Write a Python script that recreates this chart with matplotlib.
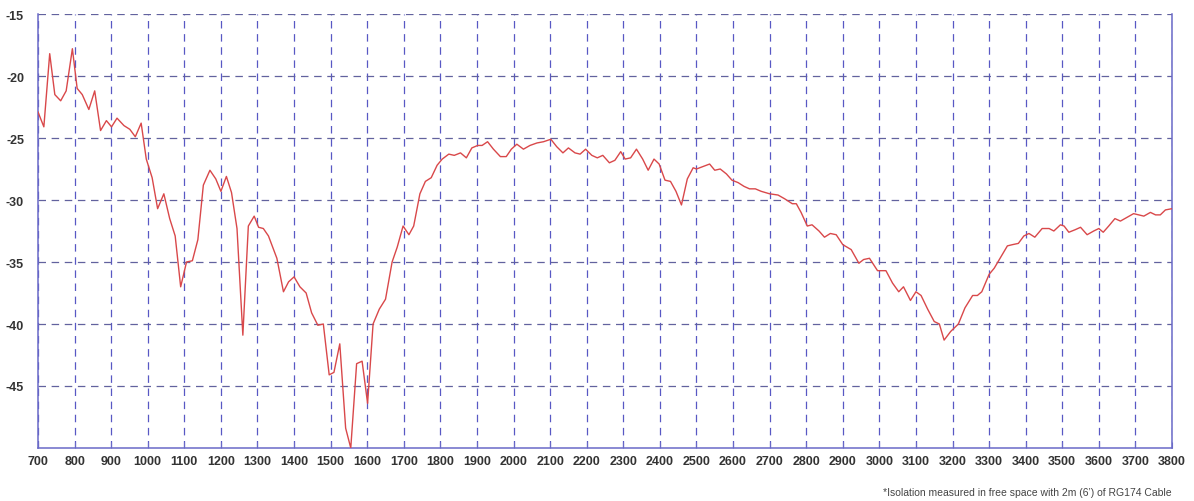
import matplotlib
matplotlib.use("Agg")
import matplotlib.pyplot as plt

# frequency [MHz] vs isolation [dB]
freq = [700, 716, 732, 746, 762, 777, 794, 807, 821, 839, 855, 871, 887, 901, 916, 935,
        951, 966, 982, 996, 1012, 1027, 1044, 1060, 1075, 1090, 1106, 1122, 1137, 1152,
        1170, 1186, 1200, 1215, 1229, 1244, 1260, 1275, 1291, 1303, 1316, 1330, 1353,
        1371, 1385, 1400, 1416, 1433, 1448, 1465, 1480, 1496, 1509, 1525, 1541, 1555,
        1571, 1586, 1601, 1616, 1633, 1650, 1668, 1682, 1698, 1714, 1727, 1744, 1759,
        1775, 1791, 1805, 1823, 1838, 1855, 1871, 1886, 1902, 1914, 1929, 1945, 1964,
        1980, 1994, 2009, 2027, 2045, 2064, 2082, 2102, 2118, 2135, 2150, 2168, 2182,
        2197, 2214, 2229, 2244, 2262, 2277, 2293, 2305, 2320, 2336, 2353, 2368, 2384,
        2398, 2414, 2429, 2444, 2459, 2475, 2491, 2500, 2518, 2536, 2550, 2565, 2582,
        2597, 2614, 2630, 2645, 2661, 2677, 2700, 2723, 2741, 2762, 2773, 2786, 2803,
        2816, 2835, 2850, 2866, 2882, 2900, 2923, 2944, 2957, 2973, 2995, 3018, 3036,
        3053, 3066, 3085, 3100, 3114, 3132, 3150, 3164, 3177, 3195, 3216, 3234, 3255,
        3268, 3280, 3300, 3314, 3332, 3350, 3364, 3380, 3395, 3409, 3425, 3445, 3464,
        3477, 3495, 3505, 3518, 3535, 3550, 3568, 3586, 3600, 3612, 3627, 3644, 3659,
        3677, 3695, 3709, 3723, 3741, 3755, 3768, 3782, 3800]

isolation = [-22.9, -24.1, -18.2, -21.5, -22.0, -21.2, -17.8, -21.0, -21.5, -22.7, -21.2,
             -24.4, -23.6, -24.1, -23.4, -24.0, -24.3, -24.9, -23.8, -26.7, -28.2, -30.7,
             -29.5, -31.5, -32.9, -37.0, -35.0, -34.9, -33.2, -28.8, -27.6, -28.3, -29.3,
             -28.1, -29.4, -32.3, -40.9, -32.1, -31.3, -32.2, -32.3, -32.9, -34.7, -37.4,
             -36.6, -36.2, -37.0, -37.5, -39.1, -40.1, -40.0, -44.1, -43.9, -41.6, -48.4,
             -50.0, -43.2, -43.0, -46.4, -40.0, -38.8, -38.0, -35.0, -33.8, -32.1, -32.8,
             -32.1, -29.5, -28.5, -28.2, -27.2, -26.7, -26.3, -26.4, -26.2, -26.6, -25.8,
             -25.6, -25.6, -25.3, -25.9, -26.5, -26.5, -25.9, -25.5, -25.9, -25.6, -25.4,
             -25.3, -25.1, -25.7, -26.2, -25.8, -26.2, -26.3, -25.9, -26.4, -26.6, -26.4,
             -27.0, -26.8, -26.1, -26.7, -26.6, -25.9, -26.7, -27.6, -26.7, -27.1, -28.4,
             -28.5, -29.3, -30.4, -28.3, -27.4, -27.5, -27.3, -27.1, -27.6, -27.5, -27.9,
             -28.4, -28.6, -28.9, -29.1, -29.1, -29.3, -29.5, -29.6, -29.9, -30.3, -30.3,
             -31.0, -32.1, -32.0, -32.5, -33.0, -32.7, -32.8, -33.6, -34.0, -35.1, -34.8,
             -34.7, -35.7, -35.7, -36.7, -37.4, -37.0, -38.1, -37.4, -37.7, -38.8, -39.8,
             -40.0, -41.3, -40.6, -40.0, -38.7, -37.7, -37.7, -37.4, -36.0, -35.5, -34.6,
             -33.7, -33.6, -33.5, -32.9, -32.7, -33.0, -32.3, -32.3, -32.5, -32.0, -32.1,
             -32.6, -32.4, -32.2, -32.8, -32.5, -32.3, -32.6, -32.1, -31.5, -31.7, -31.4,
             -31.1, -31.2, -31.3, -31.0, -31.2, -31.2, -30.8, -30.7]

x_ticks = list(range(700, 3801, 100))
y_ticks = [-45, -40, -35, -30, -25, -20, -15]
note = "*Isolation measured in free space with 2m (6\u2019) of RG174 Cable"

plt.rcParams['font.family'] = ['Liberation Sans', 'DejaVu Sans']
plt.rcParams['axes.unicode_minus'] = False

axis_col = '#6a6ac8'

fig = plt.figure(figsize=(11.94, 5.02), dpi=100)
ax = fig.add_axes([38 / 1194, 53 / 502, 1134 / 1194, 434 / 502])

ax.plot(freq, isolation, color='#d9484a', linewidth=1.0, zorder=3)

ax.set_xlim(700, 3800)
ax.set_ylim(-50, -15)
ax.set_xticks(x_ticks)
ax.set_yticks(y_ticks)
ax.set_xticklabels([str(v) for v in x_ticks])
ax.set_yticklabels([str(v) for v in y_ticks])

# vertical lines bluer, horizontal a bit greyer like the original
ax.grid(True, axis='x', color='#5858c4', linestyle=(0, (6, 4.5)), linewidth=0.9)
ax.grid(True, axis='y', color='#62629e', linestyle=(0, (6, 4.5)), linewidth=0.9)
ax.set_axisbelow(True)

ax.spines['top'].set_visible(False)
for s in ['left', 'bottom', 'right']:
    ax.spines[s].set_color(axis_col)
    ax.spines[s].set_linewidth(1.1)

ax.tick_params(axis='x', direction='in', length=4, color=axis_col, pad=5,
               labelsize=9, labelcolor='#333333')
ax.tick_params(axis='y', length=0, pad=10, labelsize=9, labelcolor='#333333')
for lbl in ax.get_xticklabels() + ax.get_yticklabels():
    lbl.set_fontweight('bold')

fig.text(1172 / 1194, 9 / 502, note, ha='right', va='center', fontsize=7.5,
         color='#444444')

fig.savefig('out.png', dpi=100, facecolor='white')
